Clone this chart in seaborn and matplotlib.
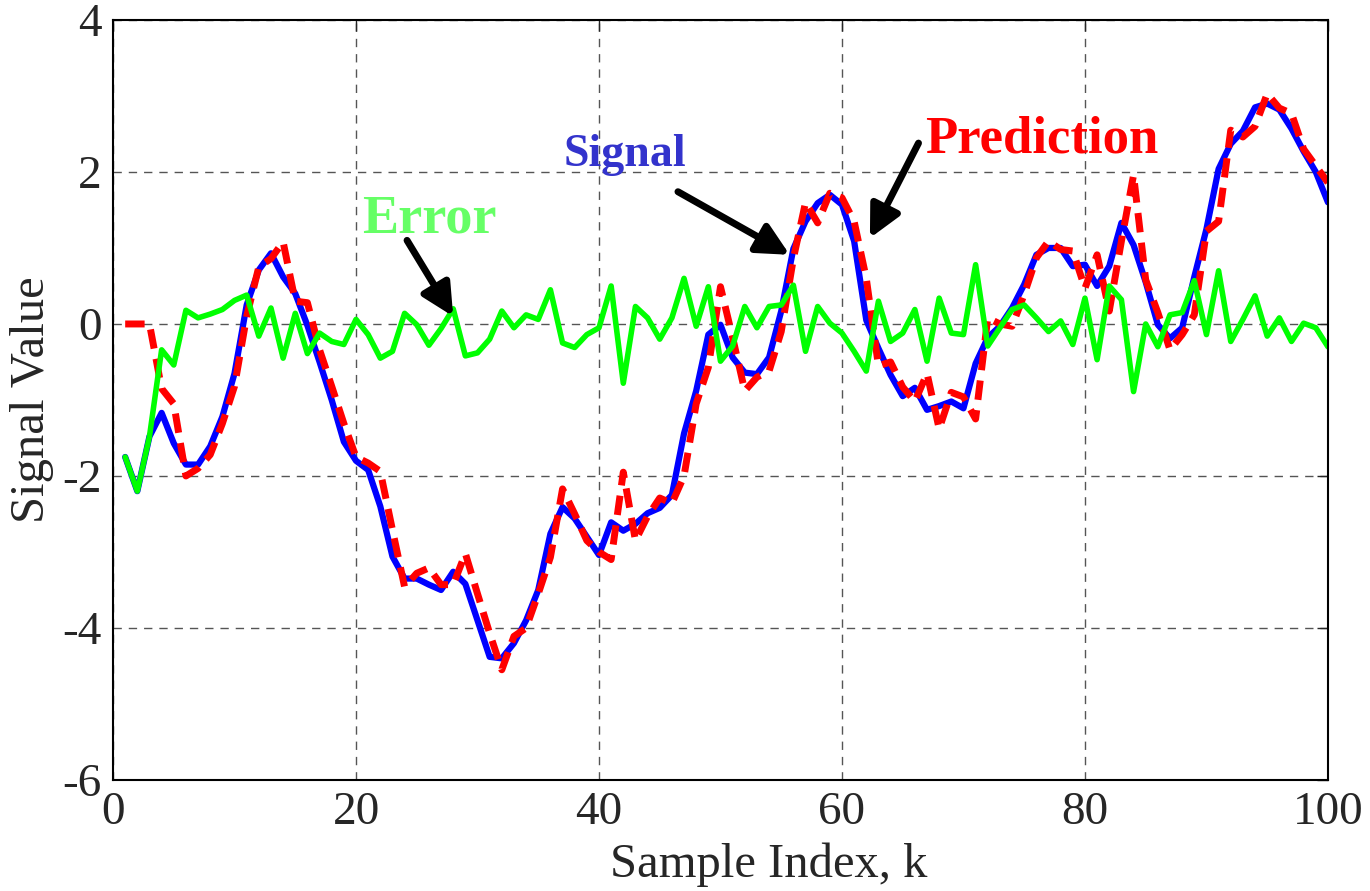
"""Signal, prediction and error traces over sample index."""

import matplotlib
matplotlib.use("Agg")
import matplotlib.pyplot as plt
import pandas as pd
import seaborn as sns

k = list(range(1, 101))

signal = [
    -1.75, -2.2, -1.48, -1.17, -1.57, -1.85, -1.85, -1.61, -1.22, -0.65,
    0.25, 0.71, 0.93, 0.62, 0.4, -0.02, -0.5, -1.0, -1.55, -1.8,
    -1.92, -2.4, -3.06, -3.35, -3.35, -3.43, -3.5, -3.26, -3.42, -3.9,
    -4.38, -4.4, -4.2, -3.9, -3.5, -2.76, -2.41, -2.56, -2.8, -3.04,
    -2.61, -2.72, -2.63, -2.49, -2.42, -2.25, -1.44, -0.88, -0.14, -0.01,
    -0.44, -0.64, -0.66, -0.44, 0.17, 0.99, 1.35, 1.59, 1.70, 1.57,
    1.09, 0.05, -0.32, -0.67, -0.95, -0.84, -1.13, -1.08, -1.02, -1.11,
    -0.52, -0.18, -0.03, 0.21, 0.52, 0.91, 1.0, 1.0, 0.76, 0.78,
    0.5, 0.76, 1.33, 1.04, 0.55, -0.01, -0.19, -0.05, 0.62, 1.25,
    2.04, 2.37, 2.54, 2.85, 2.9, 2.82, 2.57, 2.27, 2.0, 1.6,
]

prediction = [
    0.0, 0.0, 0.0, -0.85, -1.05, -2.0, -1.9, -1.72, -1.31, -0.82,
    0.1, 0.75, 0.86, 1.08, 0.3, 0.28, -0.34, -0.82, -1.31, -1.75,
    -1.83, -1.94, -2.71, -3.46, -3.28, -3.21, -3.43, -3.43, -3.02, -3.55,
    -4.07, -4.55, -4.11, -4.0, -3.55, -3.07, -2.17, -2.5, -2.85, -3.0,
    -3.1, -1.95, -2.85, -2.53, -2.29, -2.36, -2.0, -1.05, -0.57, 0.49,
    -0.18, -0.88, -0.7, -0.62, -0.1, 0.86, 1.6, 1.33, 1.72, 1.66,
    1.35, 0.6, -0.55, -0.5, -0.83, -1.02, -0.65, -1.38, -0.9, -0.96,
    -1.25, 0.08, 0.0, -0.03, 0.39, 0.87, 1.09, 0.98, 0.96, 0.47,
    0.91, 0.17, 1.09, 1.96, 0.58, 0.15, -0.34, -0.14, 0.12, 1.22,
    1.35, 2.55, 2.46, 2.6, 3.03, 2.84, 2.77, 2.3, 2.08, 1.86,
]

error = [
    -1.75, -2.2, -1.48, -0.34, -0.54, 0.18, 0.08, 0.13, 0.19, 0.31,
    0.38, -0.16, 0.21, -0.45, 0.14, -0.39, -0.12, -0.23, -0.27, 0.06,
    -0.14, -0.45, -0.36, 0.14, -0.01, -0.28, -0.06, 0.2, -0.42, -0.38,
    -0.2, 0.17, -0.05, 0.12, 0.06, 0.45, -0.25, -0.31, -0.14, -0.05,
    0.5, -0.78, 0.23, 0.08, -0.2, 0.08, 0.6, -0.03, 0.49, -0.49,
    -0.29, 0.23, -0.05, 0.23, 0.25, 0.51, -0.36, 0.23, 0.01, -0.12,
    -0.36, -0.62, 0.3, -0.23, -0.12, 0.19, -0.49, 0.34, -0.12, -0.14,
    0.78, -0.29, -0.05, 0.19, 0.25, 0.08, -0.1, 0.04, -0.27, 0.34,
    -0.47, 0.5, 0.32, -0.89, 0.0, -0.3, 0.12, 0.15, 0.57, -0.14,
    0.7, -0.23, 0.06, 0.37, -0.16, 0.08, -0.23, 0.01, -0.05, -0.3,
]

df = pd.DataFrame({"k": k, "signal": signal, "prediction": prediction, "error": error})

sns.set_style("white")
plt.rcParams["font.family"] = ["Liberation Serif", "DejaVu Serif"]
plt.rcParams["axes.unicode_minus"] = False

fig = plt.figure(figsize=(13.7, 8.91), dpi=100)
ax = fig.add_axes([0.0825, 0.1246, 0.8868, 0.853])

sns.lineplot(data=df, x="k", y="signal", color="#0000ff", lw=4.5, ax=ax)
line_pred = sns.lineplot(data=df, x="k", y="prediction", color="#ff0000", lw=5, ax=ax).lines[-1]
line_pred.set_dashes([2.8, 1.5])
sns.lineplot(data=df, x="k", y="error", color="#00ff00", lw=4, ax=ax)

ax.set_xlim(0, 100)
ax.set_ylim(-6, 4)
ax.set_xticks(range(0, 101, 20))
ax.set_yticks(range(-6, 5, 2))
ax.grid(True, color="#555555", linestyle=(0, (6, 5)), linewidth=1)
ax.tick_params(direction="in", labelsize=34, length=8, width=1, top=True, right=True, pad=8)
for side in ax.spines.values():
    side.set_color("black")
    side.set_linewidth(1.5)

ax.set_xlabel("Sample Index, k", fontsize=35)
ax.set_ylabel("Signal Value", fontsize=35, labelpad=6)
ax.xaxis.set_label_coords(0.54, -0.082)

arrow = dict(arrowstyle="-|>", lw=5, color="black", mutation_scale=48, shrinkA=0, shrinkB=0)
ax.annotate("", xy=(55.7, 0.91), xytext=(46.5, 1.74), arrowprops=arrow)
ax.annotate("", xy=(62.3, 1.13), xytext=(66.3, 2.38), arrowprops=arrow)
ax.annotate("", xy=(28.0, 0.1), xytext=(24.2, 1.1), arrowprops=arrow)

ax.text(42.1, 2.22, "Signal", color="#3333cc", fontsize=33, fontweight="bold",
        ha="center", va="center")
ax.text(76.4, 2.43, "Prediction", color="#ff0000", fontsize=38, fontweight="bold",
        ha="center", va="center")
ax.text(26.0, 1.37, "Error", color="#66ff66", fontsize=39, fontweight="bold",
        ha="center", va="center")

fig.savefig("out.png", dpi=100)
print("Saved out.png")
